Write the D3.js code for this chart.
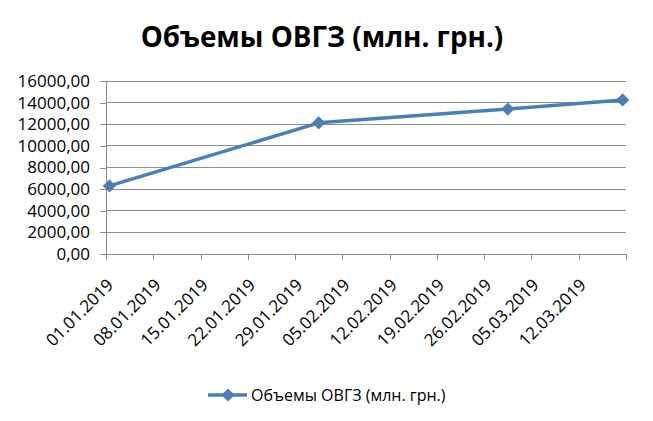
<!DOCTYPE html>
<html><head><meta charset="utf-8">
<script src="https://cdn.jsdelivr.net/npm/d3@7"></script>
<style>body{margin:0;background:#fff}svg{display:block}</style>
</head><body><svg id="c" width="653" height="421"></svg>
<script>
const titleText = "Объемы ОВГЗ (млн. грн.)";
const seriesName = "Объемы ОВГЗ (млн. грн.)";
const dates = ["01.01.2019", "01.02.2019", "01.03.2019", "18.03.2019"];
const values = [6300, 12130, 13400, 14250];
const yTicks = [0, 2000, 4000, 6000, 8000, 10000, 12000, 14000, 16000];
const xTickLabels = ["01.01.2019","08.01.2019","15.01.2019","22.01.2019","29.01.2019","05.02.2019","12.02.2019","19.02.2019","26.02.2019","05.03.2019","12.03.2019",""];
const xDomain = ["01.01.2019", "19.03.2019"];

const parse = d3.timeParse("%d.%m.%Y");
const svg = d3.select("#c");
const font = "'Open Sans', sans-serif";
const L = 106, R = 626, T = 81, B = 254;

const x = d3.scaleTime().domain(xDomain.map(parse)).range([L, R]);
const y = d3.scaleLinear().domain([0, 16000]).range([B, T]);

// title
svg.append("text").attr("x", 322).attr("y", 47).attr("text-anchor", "middle")
  .attr("font-family", font).attr("font-weight", "bold").attr("font-size", 27.8)
  .attr("fill", "#000").text(titleText);

// gridlines
svg.append("g").selectAll("line").data(yTicks.slice(1)).join("line")
  .attr("x1", L).attr("x2", R).attr("y1", d => y(d)).attr("y2", d => y(d))
  .attr("stroke", "#8c8c8c").attr("stroke-width", 1).attr("shape-rendering", "crispEdges");

// y axis
const yAxis = d3.axisLeft(y).tickValues(yTicks).tickSize(6).tickPadding(10)
  .tickFormat(d => d3.format(".2f")(d).replace(".", ","));
const gy = svg.append("g").attr("transform", `translate(${L},0)`).call(yAxis);
gy.select(".domain").attr("stroke", "#8c8c8c").attr("shape-rendering", "crispEdges");
gy.selectAll(".tick line").attr("stroke", "#8c8c8c").attr("shape-rendering", "crispEdges");
gy.selectAll("text").attr("font-family", font).attr("font-size", 17).attr("fill", "#000");

// x axis
const tickDates = xTickLabels.map((d, i) => d3.timeDay.offset(parse(xDomain[0]), 7 * i));
const xAxis = d3.axisBottom(x).tickValues(tickDates).tickSize(6)
  .tickFormat((d, i) => xTickLabels[i]);
const gx = svg.append("g").attr("transform", `translate(0,${B})`).call(xAxis);
gx.select(".domain").attr("stroke", "#8c8c8c").attr("shape-rendering", "crispEdges");
gx.selectAll(".tick line").attr("stroke", "#8c8c8c").attr("shape-rendering", "crispEdges");
gx.selectAll("text").attr("font-family", font).attr("font-size", 17).attr("fill", "#000")
  .attr("text-anchor", "end").attr("dy", null).attr("y", null)
  .attr("transform", "translate(8,32) rotate(-45)");

// line (points centred on their day, as on a date axis)
const px = d => x(d3.timeHour.offset(parse(d), 12));
const pts = dates.map((d, i) => [px(d), y(values[i])]);
const color = "#4a7ebb";
svg.append("path").attr("d", d3.line()(pts)).attr("fill", "none")
  .attr("stroke", color).attr("stroke-width", 3.5).attr("stroke-linejoin", "round");
const diamond = d3.symbol().type(d3.symbolDiamond2).size(110);
svg.append("g").selectAll("path").data(pts).join("path")
  .attr("d", diamond).attr("transform", d => `translate(${d[0]},${d[1]})`).attr("fill", color);

// legend
const lg = svg.append("g");
lg.append("line").attr("x1", 208).attr("x2", 247).attr("y1", 395).attr("y2", 395)
  .attr("stroke", color).attr("stroke-width", 3.5);
lg.append("path").attr("d", diamond).attr("transform", "translate(228,395)").attr("fill", color);
lg.append("text").attr("x", 251).attr("y", 401).attr("font-family", font).attr("font-size", 16)
  .attr("fill", "#000").text(seriesName);
</script></body></html>
